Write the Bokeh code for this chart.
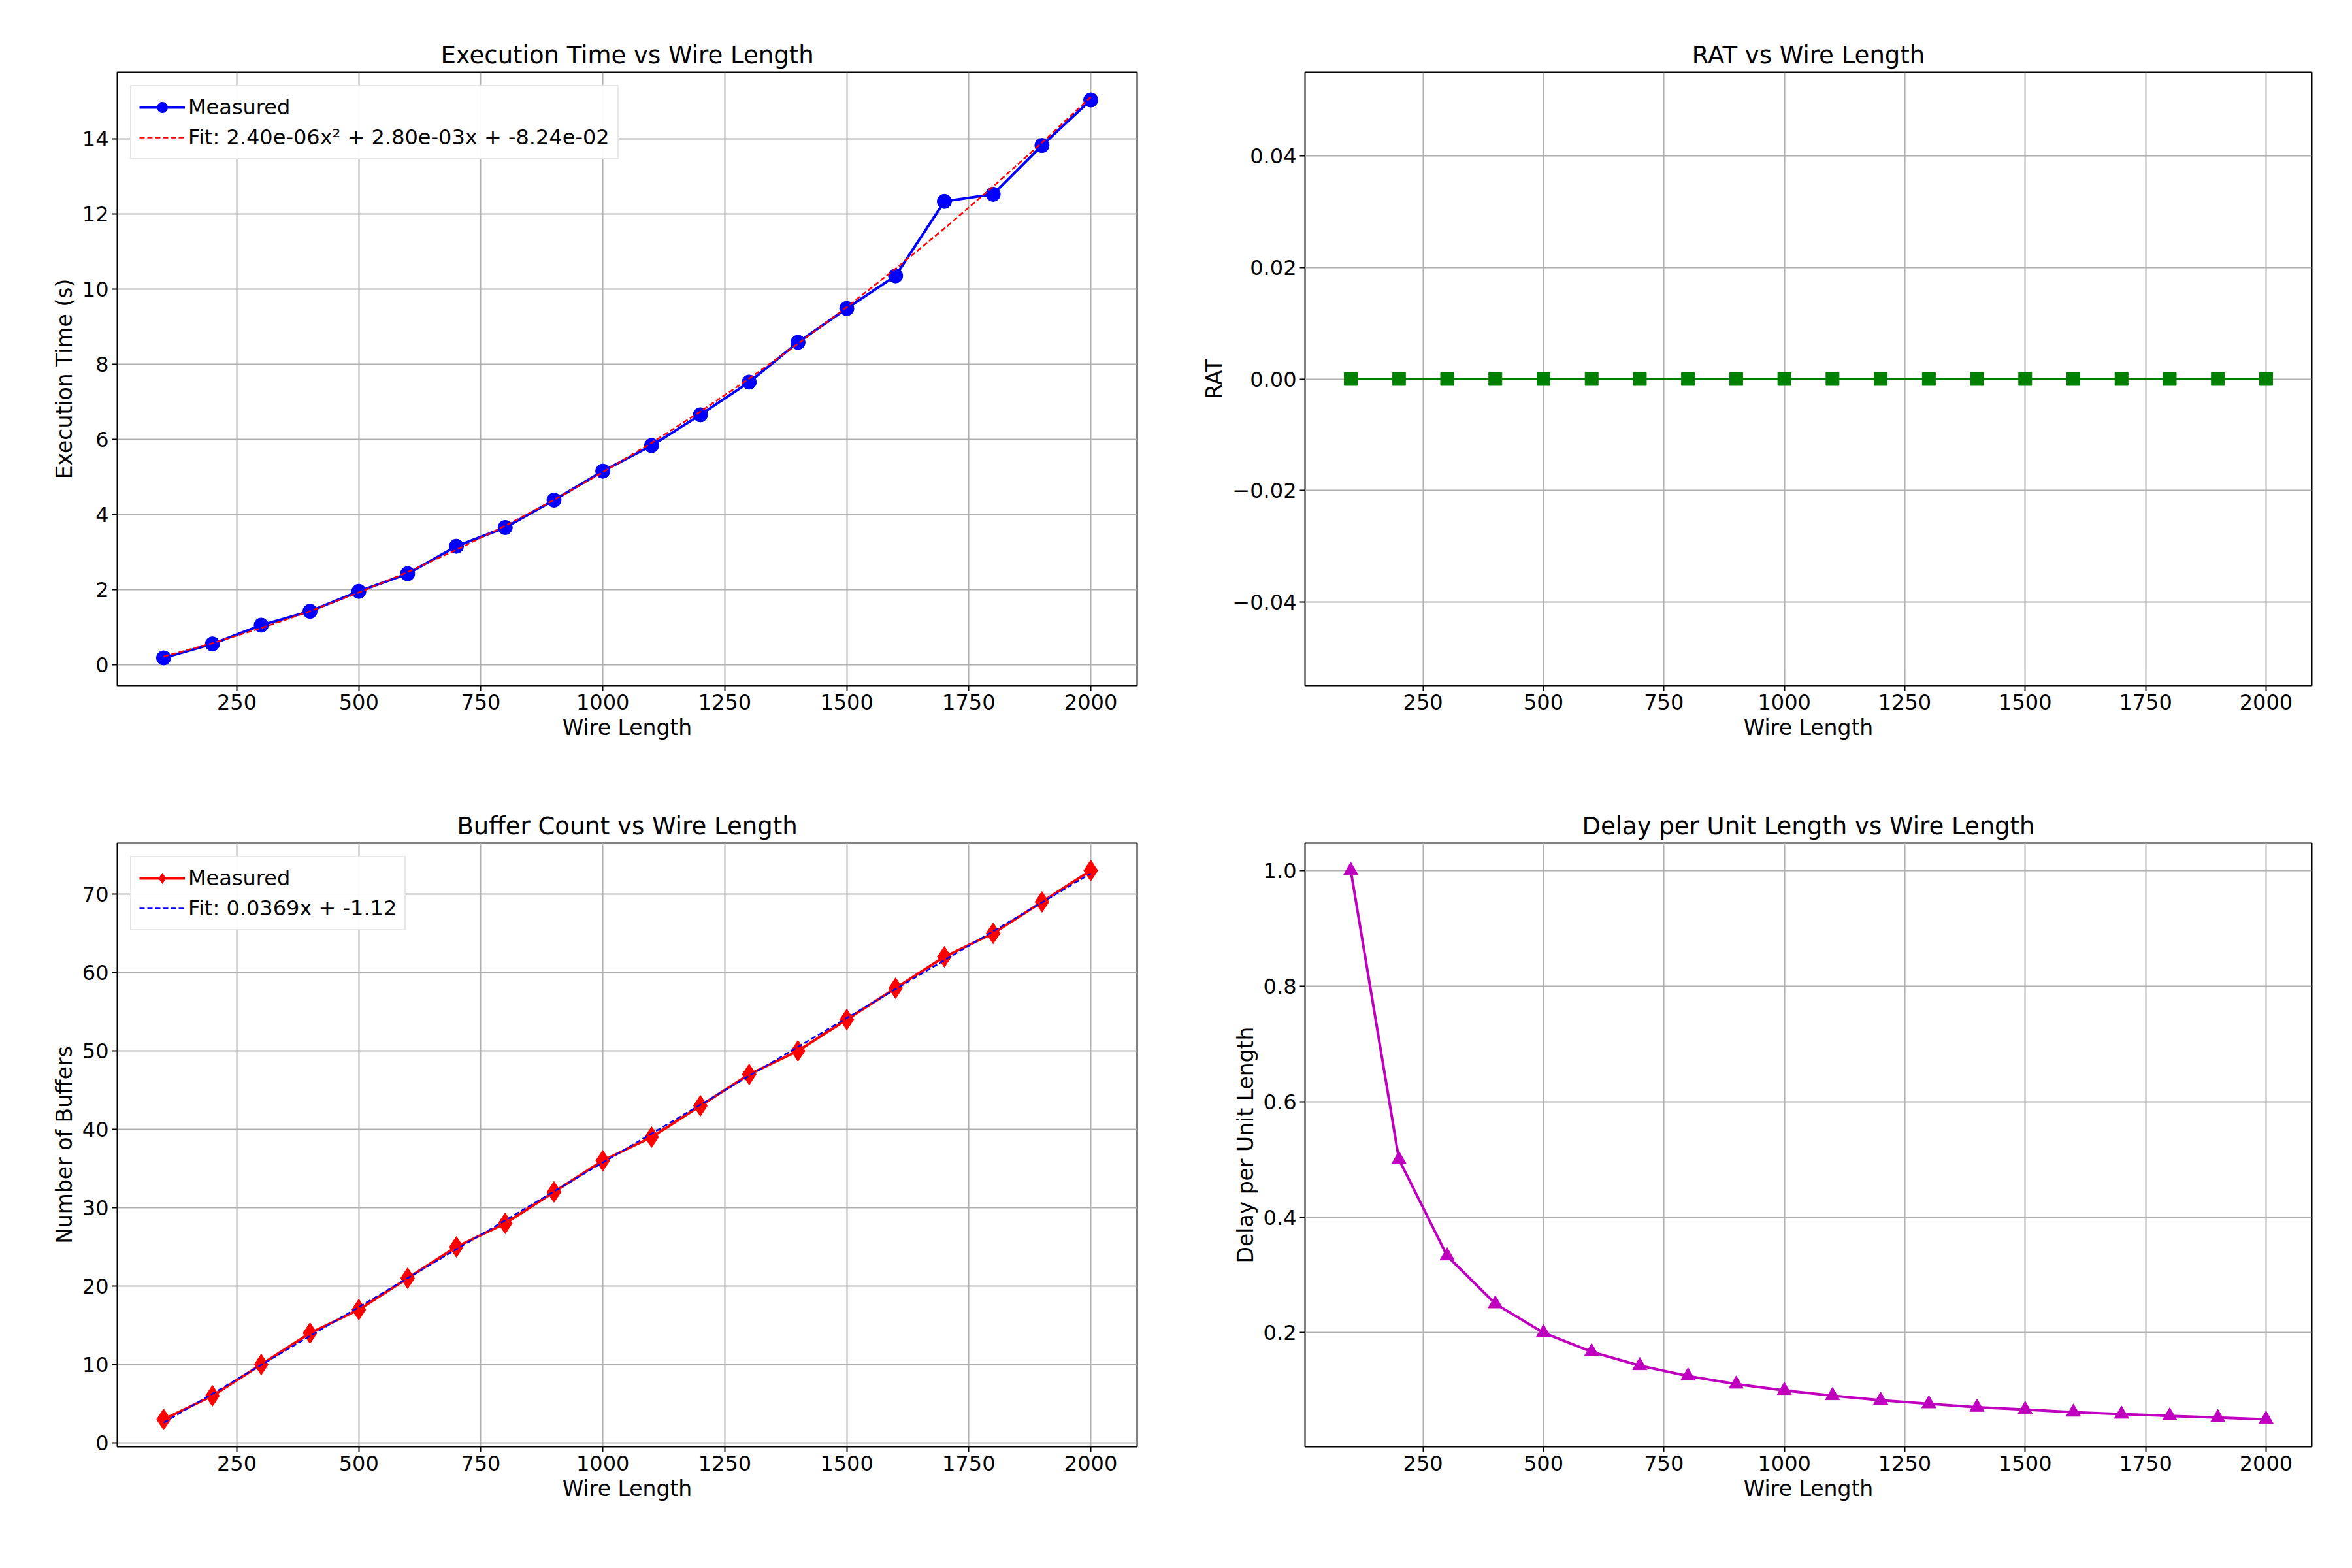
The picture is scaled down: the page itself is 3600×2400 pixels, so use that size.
import numpy as np
from bokeh.plotting import figure
from bokeh.layouts import gridplot
from bokeh.models import Range1d, FixedTicker, CustomJSTickFormatter
from bokeh.embed import file_html
from bokeh.resources import INLINE

wire_length = [100, 200, 300, 400, 500, 600, 700, 800, 900, 1000,
               1100, 1200, 1300, 1400, 1500, 1600, 1700, 1800, 1900, 2000]
exec_time = [0.18, 0.55, 1.05, 1.42, 1.95, 2.42, 3.15, 3.65, 4.38, 5.15,
             5.83, 6.65, 7.52, 8.58, 9.48, 10.35, 12.33, 12.52, 13.82, 15.03]
rat = [0.0] * 20
buffers = [3, 6, 10, 14, 17, 21, 25, 28, 32, 36,
           39, 43, 47, 50, 54, 58, 62, 65, 69, 73]
delay_per_unit = [1.0, 0.5, 0.333, 0.25, 0.2, 0.167, 0.143, 0.125, 0.111, 0.1,
                  0.091, 0.083, 0.077, 0.071, 0.067, 0.0625, 0.059, 0.056, 0.053, 0.05]
x_ticks = [250, 500, 750, 1000, 1250, 1500, 1750, 2000]

FONT = "DejaVu Sans"

def make_fig(title, ylabel, y_range, y_ticks, left, right, top, bottom):
  p = figure(width=1792, height=1192, toolbar_location=None, output_backend="svg",
             x_range=Range1d(5, 2095), y_range=Range1d(*y_range),
             min_border_left=left, min_border_right=right,
             min_border_top=top, min_border_bottom=bottom)
  p.title.text = title
  p.title.align = "center"
  p.title.text_font = FONT
  p.title.text_font_size = "37px"
  p.title.text_font_style = "normal"
  p.title.text_color = "black"
  p.outline_line_color = "black"
  p.outline_line_width = 2
  p.xaxis.axis_label = "Wire Length"
  p.yaxis.axis_label = ylabel
  p.xaxis.ticker = FixedTicker(ticks=x_ticks)
  p.yaxis.ticker = FixedTicker(ticks=y_ticks)
  for ax in (p.xaxis, p.yaxis):
    ax.axis_label_text_font = FONT
    ax.axis_label_text_font_size = "33px"
    ax.axis_label_text_font_style = "normal"
    ax.axis_label_text_color = "black"
    ax.major_label_text_font = FONT
    ax.major_label_text_font_size = "32px"
    ax.major_label_text_color = "black"
    ax.minor_tick_line_color = None
    ax.major_tick_out = 8
    ax.major_tick_in = 0
    ax.axis_line_color = None
    ax.major_tick_line_width = 2
    ax.major_tick_line_color = "black"
  p.grid.grid_line_color = "#b0b0b0"
  p.grid.grid_line_width = 2
  return p

def style_legend(p):
  p.legend.location = "top_left"
  p.legend.label_text_font = FONT
  p.legend.label_text_font_size = "32px"
  p.legend.label_text_color = "black"
  p.legend.border_line_color = "#d0d0d0"
  p.legend.border_line_width = 2
  p.legend.glyph_width = 70
  p.legend.glyph_height = 40
  p.legend.spacing = 6
  p.legend.margin = 20
  p.legend.padding = 12

# Execution time
p1 = make_fig("Execution Time vs Wire Length", "Execution Time (s)", (-0.56, 15.77),
              list(range(0, 15, 2)), 179, 52, 110, 143)
c = np.polyfit(wire_length, exec_time, 2)
fit1 = np.polyval(c, wire_length)
p1.line(wire_length, exec_time, color="blue", line_width=4, legend_label="Measured")
p1.scatter(wire_length, exec_time, marker="circle", size=22, color="blue", legend_label="Measured")
p1.line(wire_length, fit1, color="red", line_width=2.5, line_dash="8 4",
        legend_label="Fit: 2.40e-06x² + 2.80e-03x + -8.24e-02")
style_legend(p1)

# RAT
p2 = make_fig("RAT vs Wire Length", "RAT", (-0.055, 0.055),
              [-0.04, -0.02, 0.0, 0.02, 0.04], 205, 46, 110, 143)
p2.yaxis.formatter = CustomJSTickFormatter(code="return tick.toFixed(2).replace('-', '\u2212');")
p2.line(wire_length, rat, color="green", line_width=4)
p2.scatter(wire_length, rat, marker="square", size=20, color="green")

# Buffers
p3 = make_fig("Buffer Count vs Wire Length", "Number of Buffers", (-0.5, 76.5),
              list(range(0, 71, 10)), 179, 52, 98, 170)
c3 = np.polyfit(wire_length, buffers, 1)
fit3 = np.polyval(c3, wire_length)
p3.line(wire_length, buffers, color="red", line_width=4, legend_label="Measured")
p3.scatter(wire_length, buffers, marker="diamond", size=32, color="red", legend_label="Measured")
p3.line(wire_length, fit3, color="blue", line_width=2.5, line_dash="8 4",
        legend_label="Fit: 0.0369x + -1.12")
style_legend(p3)

# Delay per unit length
p4 = make_fig("Delay per Unit Length vs Wire Length", "Delay per Unit Length", (0.0025, 1.0475),
              [0.2, 0.4, 0.6, 0.8, 1.0], 205, 46, 98, 170)
p4.yaxis.formatter = CustomJSTickFormatter(code="return tick.toFixed(1);")
p4.line(wire_length, delay_per_unit, color="#bf00bf", line_width=4)
p4.scatter(wire_length, delay_per_unit, marker="triangle", size=22, color="#bf00bf")

grid = gridplot([[p1, p2], [p3, p4]], toolbar_location=None)
open("out.html", "w").write(file_html(grid, INLINE))
